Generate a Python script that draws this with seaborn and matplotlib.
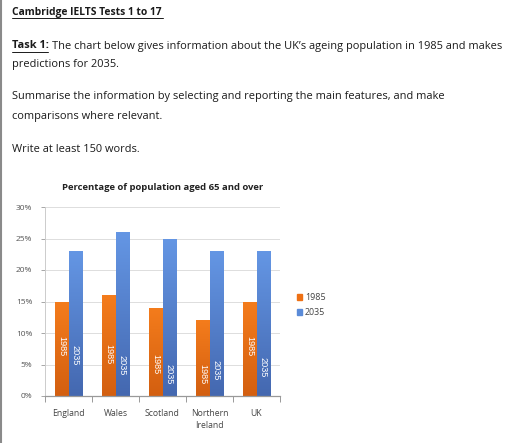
import matplotlib
matplotlib.use("Agg")
import matplotlib.pyplot as plt
import seaborn as sns
import numpy as np
import pandas as pd
from matplotlib.lines import Line2D
from matplotlib.patches import Rectangle
from matplotlib.colors import LinearSegmentedColormap

# ---- data ----
regions = ["England", "Wales", "Scotland", "Northern\nIreland", "UK"]
years = ["1985", "2035"]
pct_1985 = [15, 16, 14, 12, 15]
pct_2035 = [23, 26, 25, 23, 23]
y_ticks = [0, 5, 10, 15, 20, 25, 30]
y_tick_labels = ["0%", "5%", "10%", "15%", "20%", "25%", "30%"]

df = pd.DataFrame({
    "region": regions * 2,
    "year": [years[0]] * len(regions) + [years[1]] * len(regions),
    "pct": pct_1985 + pct_2035,
})

sns.set_theme(style="white")
plt.rcParams["font.family"] = ["Open Sans", "DejaVu Sans"]

fig = plt.figure(figsize=(5.12, 4.43), dpi=100)
fig.patch.set_facecolor("white")

# ---- text block ----
tf = ["Open Sans", "DejaVu Sans"]
col = "#1a1a1a"
fs = 7.9
fig.text(12/512, 1 - 12/443, "Cambridge IELTS Tests 1 to 17", fontsize=7.4,
         fontweight="bold", color=col, va="center", ha="left", family=tf)
fig.add_artist(Line2D([12/512, 163/512], [1 - 18/443] * 2, color=col, lw=0.7))
fig.text(12/512, 1 - 46/443, "Task 1:", fontsize=fs, fontweight="bold",
         color=col, va="center", ha="left", family=tf)
fig.add_artist(Line2D([12/512, 48/512], [1 - 52/443] * 2, color=col, lw=0.7))
fig.text(52/512, 1 - 46/443,
         "The chart below gives information about the UK\u2019s ageing population in 1985 and makes",
         fontsize=fs, color=col, va="center", ha="left", family=tf)
fig.text(12/512, 1 - 64/443, "predictions for 2035.", fontsize=fs, color=col,
         va="center", ha="left", family=tf)
fig.text(12/512, 1 - 97/443,
         "Summarise the information by selecting and reporting the main features, and make",
         fontsize=fs, color=col, va="center", ha="left", family=tf)
fig.text(12/512, 1 - 116/443, "comparisons where relevant.", fontsize=fs, color=col,
         va="center", ha="left", family=tf)
fig.text(12/512, 1 - 149/443, "Write at least 150 words.", fontsize=fs, color=col,
         va="center", ha="left", family=tf)

# left page border
fig.add_artist(Line2D([1/512, 1/512], [0, 1], color="#8a8a8a", lw=1.5))

# ---- chart ----
ax = fig.add_axes([45/512, 1 - 396/443, 235/512, 189/443])
orange = "#EE7014"
blue = "#5B8BD8"
sns.barplot(data=df, x="region", y="pct", hue="year", palette=[orange, blue],
            width=0.56, ax=ax, legend=False, saturation=1)

ax.set_ylim(0, 30)
ax.set_xlim(-0.5, len(regions) - 0.5)
ax.set_yticks(y_ticks)
ax.set_yticklabels(y_tick_labels, fontsize=6, color="#555555")
ax.set_xticks(range(len(regions)))
ax.set_xticklabels(regions, fontsize=6.2, color="#444444", linespacing=1.5)
ax.tick_params(axis="x", length=0, pad=9)
ax.tick_params(axis="y", length=3, width=0.6, color="#999999", pad=6, left=True)
ax.set_xlabel("")
ax.set_ylabel("")
ax.yaxis.grid(True, color="#dddddd", lw=0.7)
ax.set_axisbelow(True)
for s in ["top", "right"]:
    ax.spines[s].set_visible(False)
ax.spines["left"].set_color("#cccccc")
ax.spines["left"].set_linewidth(0.7)
ax.spines["bottom"].set_color("#999999")
ax.spines["bottom"].set_linewidth(0.9)
ax.set_xticks(np.arange(-0.5, len(regions), 1.0), minor=True)
ax.tick_params(axis="x", which="minor", length=4, width=0.7, color="#999999", bottom=True)

# gradient fill on bars
grad = np.linspace(0, 1, 64).reshape(-1, 1)
cm_or = LinearSegmentedColormap.from_list("o", ["#D35F10", "#F47C1C"])
cm_bl = LinearSegmentedColormap.from_list("b", ["#4468B0", "#6496E4"])
nreg = len(regions)
for i, p in enumerate(ax.patches[:2 * nreg]):
    x0, y0 = p.get_x(), p.get_y()
    w, h = p.get_width(), p.get_height()
    cmap = cm_or if i < nreg else cm_bl
    im = ax.imshow(grad, extent=[x0, x0 + w, y0, y0 + h], origin="lower",
                   cmap=cmap, aspect="auto", zorder=p.get_zorder() + 0.1)
    im.set_clip_path(p)
    p.set_edgecolor("none")
ax.set_xlim(-0.5, len(regions) - 0.5)
ax.set_ylim(0, 30)

# in-bar labels
label_y_1985 = [7.9, 6.7, 5.1, 3.5, 7.9]
label_y_2035 = [6.5, 4.9, 3.5, 4.1, 4.6]
for i, p in enumerate(ax.patches[:2 * nreg]):
    cx = p.get_x() + p.get_width() / 2
    if i < nreg:
        ly, txt = label_y_1985[i], years[0]
    else:
        ly, txt = label_y_2035[i - nreg], years[1]
    ax.text(cx, ly, txt, rotation=270, ha="center", va="center", color="white",
            fontsize=6.6, zorder=5, family=["Liberation Sans", "DejaVu Sans"])

ax.set_title("Percentage of population aged 65 and over", fontsize=6.8,
             fontweight="bold", color="#222222", pad=12)

# legend
handles = [Rectangle((0, 0), 1, 1, color=orange), Rectangle((0, 0), 1, 1, color=blue)]
fig.legend(handles, years, loc="center left", bbox_to_anchor=(289/512, 1 - 305/443),
           frameon=False, fontsize=6.4, handlelength=0.6, handleheight=0.6,
           handletextpad=0.3, labelspacing=0.7, labelcolor="#444444")

fig.savefig("out.png", dpi=100)
